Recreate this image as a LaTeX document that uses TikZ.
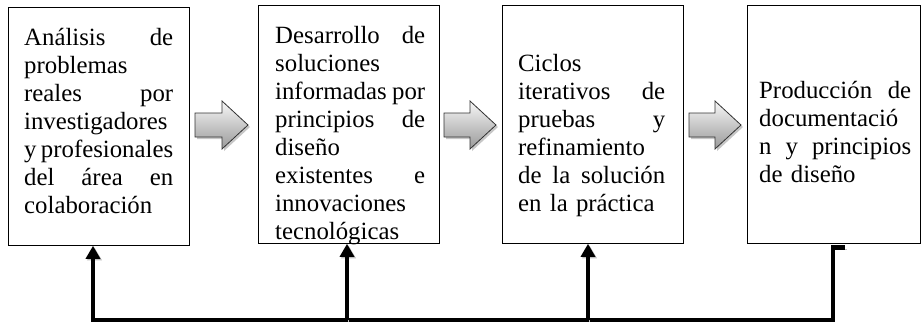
\documentclass[tikz,border=0pt]{standalone}
\usepackage{fontspec}
\setmainfont{Liberation Serif}
\usetikzlibrary{arrows.meta}
\newcommand\tline[1]{\par\noindent\hbox to \linewidth{\strut #1}\par}
\tikzset{
  box/.style={draw=black, line width=0.8pt, minimum width=#1, minimum height=238pt, inner sep=0pt, anchor=north west},
  txt/.style={anchor=north west, inner sep=0pt, text width=#1, font=\fontsize{24.8}{28}\selectfont},
  blockarrow/.style={draw=black!80, line width=0.8pt, top color=black!3, bottom color=black!40, line join=miter,
    preaction={fill=black!22, transform canvas={shift={(2pt,-2pt)}}}},
  fb/.style={line width=4.8pt, black, line join=miter,
    preaction={draw=black!25, transform canvas={shift={(1.5pt,-1.5pt)}}}},
  tip/.style={-{Triangle[width=14pt,length=13pt]}}
}
\begin{document}
\begin{tikzpicture}[x=1pt,y=-1pt]
\useasboundingbox (0,0) rectangle (921,325);
% boxes
\node[box=181pt] (b1) at (8,7) {};
\node[box=181pt] (b2) at (258,5) {};
\node[box=181pt] (b3) at (502,5) {};
\node[box=173pt] (b4) at (747,5) {};
% texts
\node[txt=149pt] (t1) at (24,17.4) {%
\tline{Análisis\hfill de}%
\tline{problemas\hfill}%
\tline{reales\hfill por}%
\tline{investigadores\hfill}%
\tline{y\hfill profesionales}%
\tline{del\hfill área\hfill en}%
\tline{colaboración\hfill}};
\node[txt=150pt] (t2) at (275,15.4) {%
\tline{Desarrollo\hfill de}%
\tline{soluciones\hfill}%
\tline{informadas\hfill por}%
\tline{principios\hfill de}%
\tline{diseño\hfill}%
\tline{existentes\hfill e}%
\tline{innovaciones\hfill}%
\tline{tecnológicas\hfill}};
\node[txt=147pt] (t3) at (518,43.4) {%
\tline{Ciclos\hfill}%
\tline{iterativos\hfill de}%
\tline{pruebas\hfill y}%
\tline{refinamiento\hfill}%
\tline{de\hfill la\hfill solución}%
\tline{en la práctica\hfill}};
\node[txt=152pt] (t4) at (759,70.4) {%
\tline{Producción\hfill de}%
\tline{documentació\hfill}%
\tline{n\hfill y\hfill principios}%
\tline{de diseño\hfill}};
% block arrows
\path[blockarrow] (195,113) -- (222,113) -- (222,101) -- (248,125) -- (222,149) -- (222,137) -- (195,137) -- cycle;
\path[blockarrow] (444,113) -- (470,113) -- (470,101) -- (496,125) -- (470,149) -- (470,137) -- (444,137) -- cycle;
\path[blockarrow] (689,113) -- (715,113) -- (715,101) -- (741,125) -- (715,149) -- (715,137) -- (689,137) -- cycle;
% feedback lines
\coordinate (r1) at (93,320);
\coordinate (r2) at (347,320);
\coordinate (r3) at (588,320);
\coordinate (r4) at (833,320);
\coordinate (e4) at (845,247.5);
\draw[fb, {Triangle[width=14pt,length=13pt]}-] (b1.south -| r1) -- (r1) -- (r4) -- (r4 |- e4) -- (e4);
\draw[fb, tip] (r2) -- (r2 |- b2.south);
\draw[fb, tip] (r3) -- (r3 |- b3.south);
\end{tikzpicture}
\end{document}
